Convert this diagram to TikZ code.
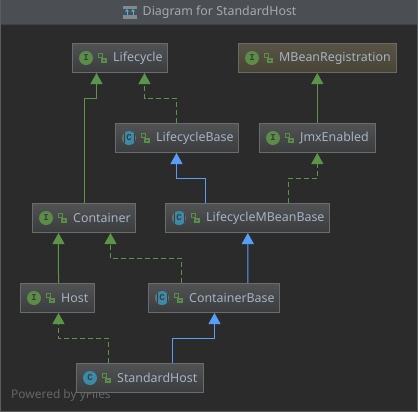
\documentclass[tikz,border=0pt]{standalone}
\usepackage{fontspec}
\setmainfont{Noto Sans}
\newfontfamily\iconfont{Liberation Mono}
\usetikzlibrary{arrows.meta}

\definecolor{windowbg}{HTML}{2B2B2B}
\definecolor{windowedge}{HTML}{5A5C5E}
\definecolor{titlebg}{HTML}{4B4E53}
\definecolor{titleline}{HTML}{3F4144}
\definecolor{titletext}{HTML}{A6AAAE}
\definecolor{titleicon}{HTML}{7F8B91}
\definecolor{titlearrow}{HTML}{3FB2E8}
\definecolor{poweredtext}{HTML}{666666}
\definecolor{boxedge}{HTML}{696B6D}
\definecolor{boxtop}{HTML}{505254}
\definecolor{boxbottom}{HTML}{3B3C3D}
\definecolor{oliveedge}{HTML}{6A6A62}
\definecolor{olivetop}{HTML}{575447}
\definecolor{olivebottom}{HTML}{484536}
\definecolor{labeltext}{HTML}{A5B3C2}
\definecolor{arrowgreen}{HTML}{5C9449}
\definecolor{arrowblue}{HTML}{589DF6}
\definecolor{icongreen}{HTML}{5B8C48}
\definecolor{iconblue}{HTML}{3B8AA8}
\definecolor{icongray}{HTML}{6C7073}

\tikzset{
  classbox/.style={draw=boxedge, line width=1bp, top color=boxtop, bottom color=boxbottom, inner sep=0pt, minimum height=29bp},
  olivebox/.style={classbox, draw=oliveedge, top color=olivetop, bottom color=olivebottom},
  classtext/.style={text=labeltext, font=\fontsize{12.45}{14}\selectfont, inner sep=0pt, anchor=west},
  ifaceicon/.style={circle, fill=icongreen, minimum size=14bp, inner sep=0pt, text=boxbottom, font=\iconfont\bfseries\fontsize{9}{9}\selectfont},
  classicon/.style={ifaceicon, fill=iconblue, text=boxbottom},
  abstracticon/.style={ifaceicon, fill=icongray, text=boxbottom, path picture={
      \fill[boxbottom] ([xshift=-5.5bp,yshift=-7bp]path picture bounding box.center) rectangle ([xshift=5.5bp,yshift=7bp]path picture bounding box.center);
      \fill[iconblue] ([xshift=-4.5bp,yshift=-7bp]path picture bounding box.center) rectangle ([xshift=4.5bp,yshift=7bp]path picture bounding box.center);}},
  extendsg/.style={draw=arrowgreen, line width=1bp, -{Triangle[width=12bp,length=11bp,fill=arrowgreen]}},
  implementsg/.style={extendsg, dash pattern=on 5bp off 3bp},
  extendsb/.style={draw=arrowblue, line width=1bp, -{Triangle[width=12bp,length=11bp,fill=arrowblue]}}
}

% name, left, right, top, icon style, icon letter, text
\newcommand{\classnode}[8][classbox]{
  \node[#1, minimum width={(#4-#3)*1bp}] (#2) at ({(#3+#4)/2},{#5+14.5}) {};
  \node[#6] (#2icon) at ([xshift=14bp]#2.west) {#7};
  \draw[icongreen, line width=1bp] ([xshift=26.5bp,yshift=.5bp]#2.west) rectangle ++(4,-4);
  \fill[icongreen] ([xshift=29bp]#2.west) rectangle ++(5.5,4.5);
  \fill[boxbottom] ([xshift=31bp,yshift=-1.5bp]#2.west) rectangle ++(1.5,1.5);
  \node[classtext] (#2text) at ([xshift=41bp]#2.west) {#8};
}

\begin{document}
\begin{tikzpicture}[x=1bp, y=-1bp]
\useasboundingbox (0,0) rectangle (418,412);

% window
\fill[windowedge] (0,0) rectangle (418,412);
\fill[windowbg] (1.5,24) rectangle (416.5,410.5);
\fill[titlebg] (1,0) rectangle (417,24);
\fill[titleline] (1,23.5) rectangle (417,25);

% title
\fill[titleicon] (123,5.5) rectangle (137,8.5);
\fill[titleicon] (123,15) rectangle (137,18.5);
\draw[titlearrow, line width=1bp, -{Triangle[width=3.5bp,length=2.5bp]}] (127,14.5) -- (127,9);
\draw[titlearrow, line width=1bp, -{Triangle[width=3.5bp,length=2.5bp]}] (133,14.5) -- (133,9);
\node[text=titletext, font=\fontsize{12.45}{14}\selectfont, inner sep=0pt, anchor=west] (title) at (142.5,12.5) {Diagram for StandardHost};

\node[text=poweredtext, font=\fontsize{12}{14}\selectfont, inner sep=0pt, anchor=west] (powered) at (11,395) {Powered by yFiles};

% classes
\classnode{lifecycle}{72.5}{167.5}{43.5}{ifaceicon}{I}{Lifecycle}
\classnode[olivebox]{mbeanreg}{238.5}{396.5}{43.5}{ifaceicon}{I}{MBeanRegistration}
\classnode{lifecyclebase}{115.5}{238.5}{123.5}{abstracticon}{C}{LifecycleBase}
\classnode{jmxenabled}{259.5}{375.5}{123.5}{ifaceicon}{I}{JmxEnabled}
\classnode{container}{32.5}{135.5}{203.5}{ifaceicon}{I}{Container}
\classnode{lifecyclembean}{165.5}{329.5}{203.5}{abstracticon}{C}{LifecycleMBeanBase}
\classnode{host}{20.5}{94.5}{283.5}{ifaceicon}{I}{Host}
\classnode{containerbase}{148.5}{279.5}{283.5}{abstracticon}{C}{ContainerBase}
\classnode{standardhost}{76.5}{203.5}{363.5}{classicon}{C}{StandardHost}

% connectors
\draw[extendsg] ([xshift=-.2bp]jmxenabled.north) -- ([xshift=-.2bp]mbeanreg.south);
\draw[extendsg] ([xshift=.5bp]container.north) -- ++(0,-105) -| ([xshift=-23.5bp]lifecycle.south);
\draw[implementsg] ([xshift=-.5bp]lifecyclebase.north) -- ++(0,-25) -| ([xshift=24.5bp]lifecycle.south);
\draw[extendsb] ([xshift=-42.2bp]lifecyclembean.north) -- ++(0,-25) -| ([xshift=-.5bp]lifecyclebase.south);
\draw[implementsg] ([xshift=41bp]lifecyclembean.north) -- ++(0,-25) -| ([xshift=-.2bp]jmxenabled.south);
\draw[extendsg] ([xshift=1bp]host.north) -- ([xshift=-25.5bp]container.south);
\draw[implementsg] ([xshift=-32.5bp]containerbase.north) -- ++(0,-25) -| ([xshift=26.5bp]container.south);
\draw[extendsb] ([xshift=33.8bp]containerbase.north) -- ([xshift=.3bp]lifecyclembean.south);
\draw[implementsg] ([xshift=-31.5bp]standardhost.north) -- ++(0,-25) -| ([xshift=1bp]host.south);
\draw[extendsb] ([xshift=32.5bp]standardhost.north) -- ++(0,-25) -| ([xshift=.5bp]containerbase.south);
\end{tikzpicture}
\end{document}
